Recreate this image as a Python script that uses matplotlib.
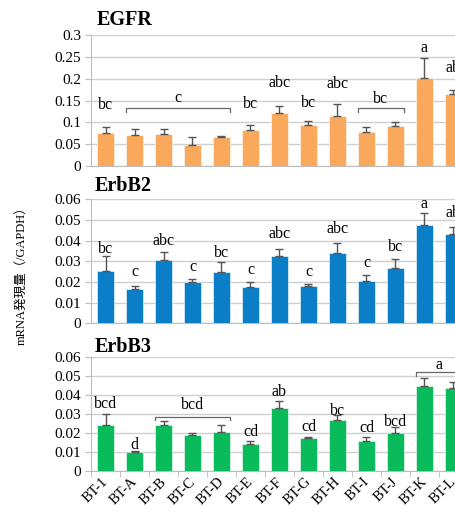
import numpy as np
import matplotlib
matplotlib.use("Agg")
import matplotlib.pyplot as plt
import matplotlib.transforms as mtransforms

plt.rcParams['font.family'] = ['Liberation Serif', 'Noto Sans CJK JP']

# --- data ---
samples = ['BT-1', 'BT-A', 'BT-B', 'BT-C', 'BT-D', 'BT-E', 'BT-F',
           'BT-G', 'BT-H', 'BT-I', 'BT-J', 'BT-K', 'BT-L']

egfr_vals = [0.075, 0.071, 0.0725, 0.048, 0.066, 0.082, 0.121,
             0.094, 0.115, 0.078, 0.092, 0.2015, 0.166]
egfr_err = [0.015, 0.015, 0.012, 0.018, 0.004, 0.013, 0.017,
            0.010, 0.026, 0.011, 0.009, 0.045, 0.009]
egfr_letters = ['bc', None, None, None, None, 'bc', 'abc',
                'bc', 'abc', None, None, 'a', 'ab']
egfr_letter_y = [0.140, None, None, None, None, 0.141, 0.191,
                 0.145, 0.188, None, None, 0.271, 0.224]
# (first bar, last bar, line y, tick bottom, text y, text)
egfr_brackets = [(1, 4, 0.134, 0.124, 0.155, 'c'),
                 (9, 10, 0.134, 0.124, 0.153, 'bc')]

erbb2_vals = [0.0253, 0.0168, 0.0306, 0.0200, 0.0247, 0.0174, 0.0327,
              0.0180, 0.0339, 0.0206, 0.0268, 0.0477, 0.0432]
erbb2_err = [0.0073, 0.0011, 0.0039, 0.0016, 0.0048, 0.0024, 0.0033,
             0.0012, 0.0051, 0.0026, 0.0042, 0.0058, 0.0036]
erbb2_letters = ['bc', 'c', 'abc', 'c', 'bc', 'c', 'abc',
                 'c', 'abc', 'c', 'bc', 'a', 'ab']
erbb2_letter_y = [0.0360, 0.0247, 0.0398, 0.0274, 0.0339, 0.0260, 0.0430,
                  0.0250, 0.0455, 0.0290, 0.0370, 0.0576, 0.0535]
erbb2_brackets = []

erbb3_vals = [0.0245, 0.0099, 0.0241, 0.0188, 0.0206, 0.0141, 0.0331,
              0.0172, 0.0271, 0.0157, 0.0199, 0.0450, 0.0438]
erbb3_err = [0.0056, 0.0007, 0.0023, 0.0011, 0.0039, 0.0016, 0.0037,
             0.0008, 0.0027, 0.0023, 0.0031, 0.0039, 0.0034]
erbb3_letters = ['bcd', 'd', None, None, None, 'cd', 'ab',
                 'cd', 'bc', 'cd', 'bcd', None, None]
erbb3_letter_y = [0.0354, 0.0137, None, None, None, 0.0206, 0.0415,
                  0.0230, 0.0318, 0.0227, 0.0260, None, None]
erbb3_brackets = [(2, 4, 0.0287, 0.0270, 0.0348, 'bcd'),
                  (11, 12, 0.0520, 0.0500, 0.0560, 'a')]

panels = [
    ('EGFR', egfr_vals, egfr_err, egfr_letters, egfr_letter_y, egfr_brackets,
     '#F9A85C', 0.3, 0.05, [0.675, 0.2564], (97, 20)),
    ('ErbB2', erbb2_vals, erbb2_err, erbb2_letters, erbb2_letter_y, erbb2_brackets,
     '#0B7EC8', 0.06, 0.01, [0.3673, 0.2427], (95, 186)),
    ('ErbB3', erbb3_vals, erbb3_err, erbb3_letters, erbb3_letter_y, erbb3_brackets,
     '#0ABB5C', 0.06, 0.01, [0.0783, 0.2225], (95, 347)),
]

W, H = 456, 511
fig = plt.figure(figsize=(W / 100, H / 100), dpi=100)
x = np.arange(len(samples))
bw = 0.62

for k, (title, vals, err, letters, ly, brackets, color, ymax, step, (bot, hgt), tpos) in enumerate(panels):
    ax = fig.add_axes([91 / W, bot, 377 / W, hgt])
    ax.bar(x, vals, width=bw, color=color, edgecolor='white', linewidth=0.4, zorder=3)
    ax.errorbar(x, vals, yerr=[np.zeros(len(vals)), err], fmt='none',
                ecolor='#555555', elinewidth=1, capsize=3, capthick=1, zorder=4)

    for i, (lab, yy) in enumerate(zip(letters, ly)):
        if lab:
            ax.text(x[i], yy, lab, ha='center', va='center', fontsize=11.5)

    for (a, b, yl, yb, yt, lab) in brackets:
        x0, x1 = x[a] - bw / 2, x[b] + bw / 2
        ax.plot([x0, x0, x1, x1], [yb, yl, yl, yb], color='#666666', lw=0.9,
                clip_on=False, zorder=5)
        ax.text((x0 + x1) / 2, yt, lab, ha='center', va='center', fontsize=11.5)

    ax.set_xlim(-0.5, len(samples) - 0.5)
    ax.set_ylim(0, ymax)
    ax.set_yticks(np.arange(0, ymax + step / 2, step))
    ax.set_yticklabels(['0'] + ['%g' % v for v in np.arange(step, ymax + step / 2, step)])
    ax.grid(axis='y', color='#CFCFCF', linewidth=1, zorder=0)
    ax.set_axisbelow(True)
    for s in ['top', 'right']:
        ax.spines[s].set_visible(False)
    ax.spines['left'].set_color('#BDBDBD')
    ax.spines['bottom'].set_color('#BDBDBD')
    ax.tick_params(axis='y', colors='#BDBDBD', labelcolor='black', length=4,
                   labelsize=11, pad=3)

    if k == 2:
        ax.set_xticks(np.arange(-0.5, len(samples), 1), minor=True)
        ax.set_xticks(x)
        ax.set_xticklabels(samples, rotation=45, ha='right', rotation_mode='anchor',
                           fontsize=10.5)
        ax.tick_params(axis='x', which='major', length=0, pad=3)
        ax.tick_params(axis='x', which='minor', length=4, colors='#BDBDBD')
        shift = mtransforms.ScaledTranslation(-4 / 100, 0, fig.dpi_scale_trans)
        for lab in ax.get_xticklabels():
            lab.set_transform(lab.get_transform() + shift)
    else:
        ax.set_xticks([])

    fig.text(tpos[0] / W, 1 - tpos[1] / H, title, fontsize=14.5, fontweight='bold',
             ha='left', va='center')

fig.text(22 / W, 1 - 273 / H, 'mRNA発現量（/GAPDH）', rotation=90,
         ha='center', va='center', fontsize=9)

fig.savefig('out.png', dpi=100)
